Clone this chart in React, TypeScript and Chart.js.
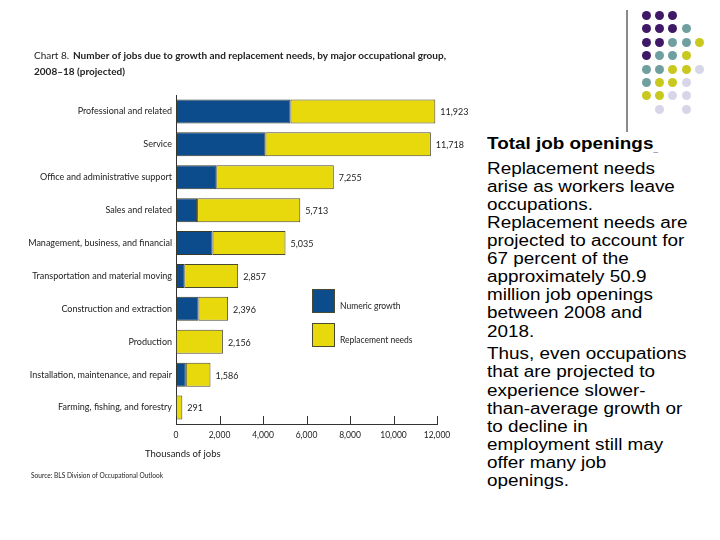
import React, { useEffect, useRef } from "react";
import { Chart, registerables } from "chart.js";
Chart.register(...registerables);

const categories = [
  "Professional and related",
  "Service",
  "Office and administrative support",
  "Sales and related",
  "Management, business, and financial",
  "Transportation and material moving",
  "Construction and extraction",
  "Production",
  "Installation, maintenance, and repair",
  "Farming, fishing, and forestry",
];
const numericGrowth = [5260, 4110, 1850, 970, 1680, 380, 1030, 0, 450, 0];
const replacementNeeds = [6663, 7608, 5405, 4743, 3355, 2477, 1366, 2156, 1136, 291];
const totals = [11923, 11718, 7255, 5713, 5035, 2857, 2396, 2156, 1586, 291];
const xTickValues = [0, 2000, 4000, 6000, 8000, 10000, 12000];

const titleLead = "Chart 8.";
const titleLine1 = "Number of jobs due to growth and replacement needs, by major occupational group,";
const titleLine2 = "2008\u201318 (projected)";
const axisTitle = "Thousands of jobs";
const sourceText = "Source: BLS Division of Occupational Outlook";

const dotRows = ["PPP", "PPPT", "PPTTY", "PTTY", "TTYYL", "TYYL", "YYLL", " L L"];
const dotColors: Record<string, string> = {
  P: "#3f1868",
  T: "#6f9f9f",
  Y: "#c9c81e",
  L: "#d6d6e8",
};

const BLUE = "#0c4b8c";
const YELLOW = "#e8d90c";
const FONT = "Lato, 'DejaVu Sans', sans-serif";

const annotations = {
  id: "annotations",
  afterDraw(chart: any) {
    const ctx = chart.ctx;
    const xs = chart.scales.x;
    const ys = chart.scales.y;
    const area = chart.chartArea;
    ctx.save();
    // inward tick marks
    ctx.strokeStyle = "#333";
    ctx.lineWidth = 1;
    xTickValues.forEach((v) => {
      const px = Math.round(xs.getPixelForValue(v)) + 0.5;
      ctx.beginPath();
      ctx.moveTo(px, area.bottom);
      ctx.lineTo(px, area.bottom - 8);
      ctx.stroke();
    });
    // totals
    ctx.fillStyle = "#222";
    ctx.font = `9px ${FONT}`;
    ctx.textBaseline = "middle";
    ctx.textAlign = "left";
    totals.forEach((t, i) => {
      ctx.fillText(t.toLocaleString("en-US"), xs.getPixelForValue(t) + 5, ys.getPixelForValue(i) + 1);
    });
    // title
    ctx.textBaseline = "alphabetic";
    ctx.font = `10px ${FONT}`;
    ctx.fillText(titleLead, 34, 59);
    ctx.font = `bold 10px ${FONT}`;
    ctx.fillText(titleLine1, 73, 59, 378);
    ctx.fillText(titleLine2, 34, 75);
    // axis title and source
    ctx.font = `9.5px ${FONT}`;
    ctx.fillText(axisTitle, 145, 457);
    ctx.font = `7.5px ${FONT}`;
    ctx.fillText(sourceText, 31, 478, 132);
    // legend
    const ds = chart.data.datasets;
    const legendY = [289, 323];
    ds.forEach((d: any, i: number) => {
      ctx.fillStyle = d.backgroundColor;
      ctx.fillRect(312, legendY[i], 23, 24);
      ctx.strokeStyle = "#4a4a30";
      ctx.strokeRect(312.5, legendY[i] + 0.5, 22, 23);
      ctx.fillStyle = "#222";
      ctx.font = `8.5px ${FONT}`;
      ctx.textBaseline = "middle";
      ctx.fillText(d.label, 340, legendY[i] + 17);
    });
    ctx.restore();
  },
};

function BarChart() {
  const ref = useRef<HTMLCanvasElement>(null);
  useEffect(() => {
    if (!ref.current) return;
    const chart = new Chart(ref.current, {
      type: "bar",
      data: {
        labels: categories,
        datasets: [
          {
            label: "Numeric growth",
            data: numericGrowth,
            backgroundColor: BLUE,
            borderColor: "#3a3a2a",
            borderWidth: 1,
            borderSkipped: false,
            barPercentage: 0.73,
            categoryPercentage: 1,
          },
          {
            label: "Replacement needs",
            data: replacementNeeds,
            backgroundColor: YELLOW,
            borderColor: "#4a4a30",
            borderWidth: 1,
            borderSkipped: false,
            barPercentage: 0.73,
            categoryPercentage: 1,
          },
        ],
      },
      options: {
        indexAxis: "y",
        responsive: false,
        animation: false,
        layout: { padding: { left: 0, right: 33, top: 95, bottom: 76 } },
        plugins: {
          legend: { display: false },
          tooltip: { enabled: false },
          title: { display: false },
        },
        scales: {
          x: {
            stacked: true,
            min: 0,
            max: 12000,
            afterBuildTicks: (s: any) => {
              s.ticks = xTickValues.map((v) => ({ value: v }));
            },
            afterFit: (s: any) => {
              s.height = 40;
            },
            grid: { display: false, drawTicks: false },
            border: { display: true, color: "#333", width: 1 },
            ticks: {
              padding: 6,
              maxRotation: 0,
              color: "#222",
              font: { family: FONT, size: 8.5 },
              callback: (v: any) => Number(v).toLocaleString("en-US"),
            },
          },
          y: {
            stacked: true,
            afterFit: (s: any) => {
              s.width = 176;
            },
            grid: { display: false, drawTicks: false },
            border: { display: true, color: "#333", width: 1 },
            ticks: {
              padding: 4,
              color: "#222",
              font: { family: FONT, size: 9 },
            },
          },
        },
      },
      plugins: [annotations],
    } as any);
    return () => chart.destroy();
  }, []);
  return <canvas ref={ref} width={470} height={540} style={{ position: "absolute", left: 0, top: 0 }} />;
}

export default function App() {
  const textStyle: React.CSSProperties = {
    position: "absolute",
    left: 487,
    fontFamily: "'Liberation Sans', Arial, sans-serif",
    fontSize: 16,
    lineHeight: "18.1px",
    color: "#000",
    whiteSpace: "nowrap",
    transform: "scaleX(1.18)",
    transformOrigin: "left top",
  };
  return (
    <div style={{ position: "absolute", left: 0, top: 0, width: 720, height: 540, background: "#fff", overflow: "hidden" }}>
      <BarChart />
      <div style={{ position: "absolute", left: 626, top: 10, width: 2, height: 122, background: "#8a8a8a" }} />
      {dotRows.map((row, r) =>
        row.split("").map((c, k) =>
          c === " " ? null : (
            <div
              key={`${r}-${k}`}
              style={{
                position: "absolute",
                left: 642 + k * 13.2,
                top: 11 + r * 13.4,
                width: 9,
                height: 9,
                borderRadius: "50%",
                background: dotColors[c],
              }}
            />
          )
        )
      )}
      <div style={{ ...textStyle, top: 135.4, fontWeight: "bold" }}>
        Total job openings
        <span style={{ borderBottom: "1px solid #9aa8c8" }}>&nbsp;</span>
      </div>
      <div style={{ ...textStyle, top: 159.7 }}>
        Replacement needs<br />
        arise as workers leave<br />
        occupations.<br />
        Replacement needs are<br />
        projected to account for<br />
        67 percent of the<br />
        approximately 50.9<br />
        million job openings<br />
        between 2008 and<br />
        2018.
      </div>
      <div style={{ ...textStyle, top: 345.4 }}>
        Thus, even occupations<br />
        that are projected to<br />
        experience slower-<br />
        than-average growth or<br />
        to decline in<br />
        employment still may<br />
        offer many job<br />
        openings.
      </div>
    </div>
  );
}
